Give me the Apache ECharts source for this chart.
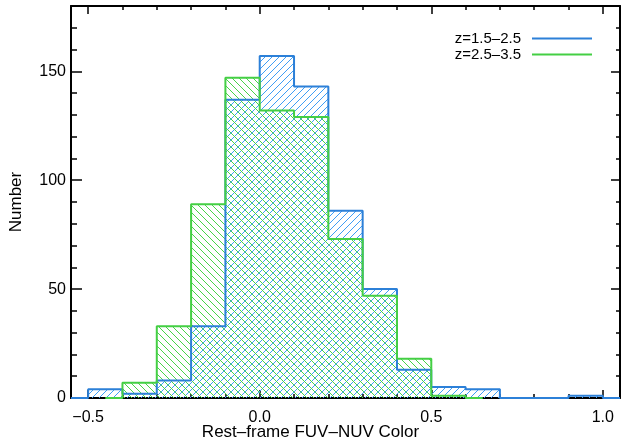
<!DOCTYPE html>
<html>
<head>
<meta charset="utf-8">
<script src="https://cdn.jsdelivr.net/npm/echarts@6.0.0/dist/echarts.min.js"></script>
<style>
  html, body { margin: 0; padding: 0; background: #fff; }
  #chart { width: 621px; height: 442px; }
</style>
</head>
<body>
<div id="chart"></div>
<script>
// bin centres (bin width 0.1), histogram drawn IDL psym=10 style
const blueCenters = [-0.55, -0.45, -0.35, -0.25, -0.15, -0.05, 0.05, 0.15, 0.25, 0.35, 0.45, 0.55, 0.65, 0.75, 0.85, 0.95, 1.05];
const blueCounts  = [0, 4, 2, 8, 33, 137, 157, 143, 86, 50, 13, 5, 4, 0, 0, 1, 0];
const greenCenters = [-0.45, -0.35, -0.25, -0.15, -0.05, 0.05, 0.15, 0.25, 0.35, 0.45, 0.55, 0.65];
const greenCounts  = [0, 7, 33, 89, 147, 132, 129, 73, 47, 18, 1, 0];
const seriesNames = ['z=1.5\u20132.5', 'z=2.5\u20133.5'];

const xMajor = [-0.5, 0, 0.5, 1.0];
const xMinor = [];
for (let i = -5; i <= 10; i++) xMinor.push(i / 10);
const yMajor = [0, 50, 100, 150];
const yMinor = [];
for (let v = 0; v <= 170; v += 10) yMinor.push(v);

const xMin = -0.55, xMax = 1.05, yMin = 0, yMax = 180;
const FONT = '"Liberation Sans", Arial, Helvetica, sans-serif';

// pixel hatch tile: dir 1 = "/", dir -1 = "\"
function hatch(color, dir) {
  const s = 7;
  const c = document.createElement('canvas');
  c.width = s; c.height = s;
  const ctx = c.getContext('2d');
  ctx.fillStyle = color;
  for (let i = 0; i < s; i++) {
    ctx.fillRect(i, dir > 0 ? s - 1 - i : i, 1, 1);
  }
  return { image: c, repeat: 'repeat' };
}

function xAx(pos, vals, len, withLine, withLabel) {
  return {
    type: 'value', position: pos, min: xMin, max: xMax,
    axisLine: { show: withLine, onZero: false, lineStyle: { color: '#000', width: 2 } },
    axisTick: { show: true, inside: true, length: len, customValues: vals, lineStyle: { color: '#000', width: 1.5 } },
    axisLabel: {
      show: withLabel, customValues: vals, margin: 12, color: '#000', fontSize: 16, fontFamily: FONT,
      formatter: v => (v < 0 ? '\u2212' : '') + Math.abs(v).toFixed(1)
    },
    splitLine: { show: false }
  };
}
function yAx(pos, vals, len, withLine, withLabel) {
  return {
    type: 'value', position: pos, min: yMin, max: yMax,
    axisLine: { show: withLine, onZero: false, lineStyle: { color: '#000', width: 2 } },
    axisTick: { show: true, inside: true, length: len, customValues: vals, lineStyle: { color: '#000', width: 1.5 } },
    axisLabel: { show: withLabel, customValues: vals, margin: 5, color: '#000', fontSize: 16, fontFamily: FONT },
    splitLine: { show: false }
  };
}

const chart = echarts.init(document.getElementById('chart'));
const yLeft = yAx('left', yMajor, 11, true, true);
yLeft.name = 'Number';
yLeft.nameLocation = 'middle';
yLeft.nameGap = 46;
yLeft.nameTextStyle = { color: '#000', fontSize: 17, fontFamily: FONT };

chart.setOption({
  animation: false,
  backgroundColor: '#fff',
  grid: { left: 70, right: 1, top: 6, bottom: 44, containLabel: false },
  legend: {
    orient: 'vertical', right: 24, top: 26, align: 'right',
    icon: 'rect', itemWidth: 60, itemHeight: 2, itemGap: 1,
    textStyle: { color: '#000', fontSize: 15, fontFamily: FONT, padding: [0, 6, 0, 0] },
    data: seriesNames
  },
  xAxis: [
    xAx('bottom', xMajor, 8, true, true),
    xAx('bottom', xMinor, 4, false, false),
    xAx('top', xMajor, 8, true, false),
    xAx('top', xMinor, 4, false, false)
  ],
  yAxis: [
    yLeft,
    yAx('left', yMinor, 6, false, false),
    yAx('right', yMajor, 9, true, false),
    yAx('right', yMinor, 4, false, false)
  ],
  graphic: [{
    type: 'text', left: 'center', top: 424,
    style: { text: 'Rest\u2013frame FUV\u2013NUV Color', fill: '#000', font: '17px ' + FONT }
  }],
  series: [
    {
      name: seriesNames[0], type: 'line', step: 'middle', symbol: 'none',
      color: '#2c80d8',
      lineStyle: { color: '#2c80d8', width: 2 },
      areaStyle: { color: hatch('#3f9ef5', 1), opacity: 1 },
      data: blueCenters.map((x, i) => [x, blueCounts[i]])
    },
    {
      name: seriesNames[1], type: 'line', step: 'middle', symbol: 'none',
      color: '#44cf44',
      lineStyle: { color: '#44cf44', width: 2 },
      areaStyle: { color: hatch('#48d448', -1), opacity: 1 },
      data: greenCenters.map((x, i) => [x, greenCounts[i]])
    }
  ]
});
</script>
</body>
</html>
